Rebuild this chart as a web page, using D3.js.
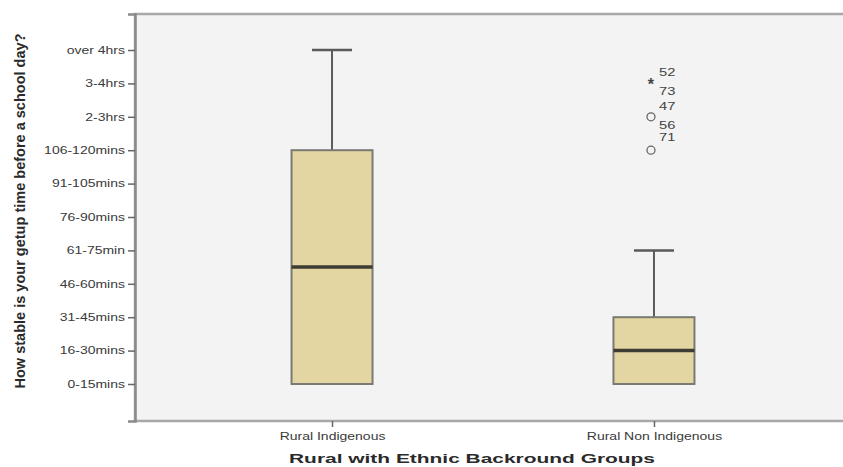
<!DOCTYPE html>
<html><head><meta charset="utf-8">
<script src="https://cdn.jsdelivr.net/npm/d3@7"></script>
<style>body{margin:0;background:#fff}svg{display:block}</style>
</head><body>
<svg id="c" width="843" height="467"></svg>
<script>
const categories = ["Rural Indigenous", "Rural Non Indigenous"];
const yLabels = ["0-15mins","16-30mins","31-45mins","46-60mins","61-75min","76-90mins","91-105mins","106-120mins","2-3hrs","3-4hrs","over 4hrs"];
const yCodes = [1,2,3,4,5,6,7,8,9,10,11];
const whiskerLow = [1, 1];
const q1 = [1, 1];
const median = [4.5, 2];
const q3 = [8, 3];
const whiskerHigh = [11, 5];
const outlierGroup = [1, 1, 1];
const outlierValue = [10, 9, 8];
const outlierType = ["extreme", "outlier", "outlier"];
const outlierLabels = [["52","73"], ["47","56"], ["71"]];
const yTitle = "How stable is your getup time before a school day?";
const xTitle = "Rural with Ethnic Backround Groups";

const svg = d3.select("#c");
const L = 135, R = 851, T = 14, B = 421;
const SX = 1.4;
const font = "'Liberation Sans', Arial, sans-serif";

const y = d3.scaleLinear().domain([-0.108, 12.078]).range([B, T]);
const x = d3.scalePoint().domain(categories).range([L, R]).padding(0.612);
const boxW = 81, capW = 40;

// plot background
svg.append("rect").attr("x", L).attr("y", T).attr("width", R - L).attr("height", B - T)
  .attr("fill", "#f3f3f3").attr("stroke", "#a8a8a8").attr("stroke-width", 2.5);

// boxes
categories.forEach((c, i) => {
  const cx = x(c);
  const g = svg.append("g");
  g.append("line").attr("x1", cx).attr("x2", cx).attr("y1", y(q3[i])).attr("y2", y(whiskerHigh[i]))
    .attr("stroke", "#5a5a5a").attr("stroke-width", 2);
  g.append("line").attr("x1", cx - capW/2).attr("x2", cx + capW/2).attr("y1", y(whiskerHigh[i])).attr("y2", y(whiskerHigh[i]))
    .attr("stroke", "#5a5a5a").attr("stroke-width", 2.5);
  g.append("line").attr("x1", cx).attr("x2", cx).attr("y1", y(q1[i])).attr("y2", y(whiskerLow[i]))
    .attr("stroke", "#5a5a5a").attr("stroke-width", 2);
  g.append("line").attr("x1", cx - capW/2).attr("x2", cx + capW/2).attr("y1", y(whiskerLow[i])).attr("y2", y(whiskerLow[i]))
    .attr("stroke", "#8a8a80").attr("stroke-width", 2);
  g.append("rect").attr("x", cx - boxW/2).attr("width", boxW)
    .attr("y", y(q3[i])).attr("height", y(q1[i]) - y(q3[i]))
    .attr("fill", "#e4d6a2").attr("stroke", "#7a7a72").attr("stroke-width", 2);
  g.append("line").attr("x1", cx - boxW/2).attr("x2", cx + boxW/2).attr("y1", y(median[i])).attr("y2", y(median[i]))
    .attr("stroke", "#3c3c34").attr("stroke-width", 3.5);
});

// outliers
outlierValue.forEach((v, k) => {
  const cx = x(categories[outlierGroup[k]]) - 3;
  const cy = y(v);
  if (outlierType[k] === "extreme") {
    svg.append("text").attr("x", cx).attr("y", cy + 7).attr("text-anchor", "middle")
      .attr("font-family", font).attr("font-size", 16).attr("font-weight", "bold").attr("fill", "#444").text("*");
  } else {
    svg.append("circle").attr("cx", cx).attr("cy", cy).attr("r", 4)
      .attr("fill", "none").attr("stroke", "#666").attr("stroke-width", 1.3);
  }
  const labs = outlierLabels[k];
  const offs = labs.length === 1 ? [-13] : [-11, 8];
  labs.forEach((t, j) => {
    svg.append("text").attr("transform", `translate(${cx + 8},${cy + offs[j] + 4}) scale(${SX},1)`)
      .attr("font-family", font).attr("font-size", 10.5).attr("fill", "#444").text(t);
  });
});

// y axis
const yAxis = d3.axisLeft(y).tickValues(yCodes).tickFormat((d, i) => yLabels[i]).tickSize(7).tickPadding(3);
const ga = svg.append("g").attr("transform", `translate(${L},0)`).call(yAxis);
ga.select(".domain").attr("stroke", "#8a8a8a").attr("stroke-width", 2.5);
ga.selectAll(".tick line").attr("stroke", "#666").attr("stroke-width", 1.5);
ga.selectAll(".tick text").attr("font-family", font).attr("font-size", 10).attr("fill", "#3a3a3a")
  .attr("transform", `scale(${SX},1)`).attr("x", -10 / SX);

// x axis
const xAxis = d3.axisBottom(x).tickSize(6).tickPadding(4);
const gx = svg.append("g").attr("transform", `translate(0,${B})`).call(xAxis);
gx.select(".domain").remove();
gx.selectAll(".tick line").attr("stroke", "#666").attr("stroke-width", 1.5);
gx.selectAll(".tick text").attr("font-family", font).attr("font-size", 10).attr("fill", "#3a3a3a")
  .attr("transform", `scale(${SX},1)`).attr("x", 0).attr("y", 12);

// titles
svg.append("text").attr("x", 472).attr("y", 463)
  .attr("text-anchor", "middle").attr("font-family", font).attr("font-size", 13).attr("font-weight", "bold")
  .attr("fill", "#2a2a2a").attr("textLength", 366).attr("lengthAdjust", "spacingAndGlyphs").text(xTitle);
svg.append("text").attr("transform", `translate(25,211) scale(1.25,1) rotate(-90)`)
  .attr("text-anchor", "middle").attr("font-family", font).attr("font-size", 12).attr("font-weight", "bold")
  .attr("fill", "#2a2a2a").attr("textLength", 355).attr("lengthAdjust", "spacingAndGlyphs").text(yTitle);
</script>
</body></html>
